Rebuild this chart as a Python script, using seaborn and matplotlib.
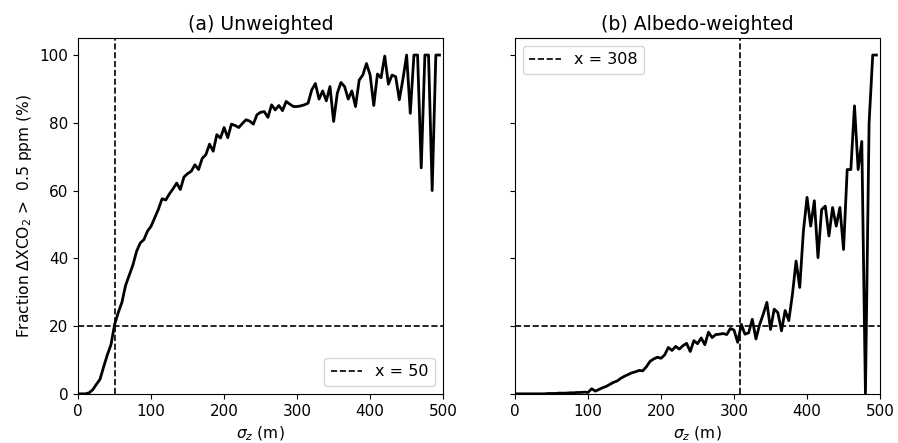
import numpy as np
import pandas as pd
import matplotlib
matplotlib.use("Agg")
import matplotlib.pyplot as plt
import seaborn as sns

# sigma_z grid (m), 5 m bins
sigma_z = np.arange(0, 500, 5)

# fraction of cases with dXCO2 > 0.5 ppm (%), unweighted
frac_unweighted = [
    0, 0, 0, 0.3, 1.2, 2.8, 4.3, 8, 11.5, 14.5,
    20.5, 24, 27, 32, 35, 38, 42, 44.5, 45.5, 48,
    49.5, 52, 54.5, 57.6, 57.2, 59, 60.5, 62.2, 60.3, 64,
    65, 65.7, 67.6, 66.2, 69.5, 70.6, 73.7, 71.6, 76.5, 75.5,
    78.6, 75.6, 79.6, 79.2, 78.6, 79.8, 80.9, 80.5, 79.6, 82.4,
    83.1, 83.3, 81.6, 85.3, 83.8, 85.1, 83.6, 86.3, 85.5, 84.8,
    84.8, 85, 85.3, 85.8, 89.7, 91.6, 87, 89.4, 86.5, 90.7,
    80.4, 88.7, 91.9, 90.7, 87, 89.4, 84.8, 92.6, 94.1, 97.5,
    94.1, 85.1, 94.4, 93.3, 99.7, 91.4, 94.1, 93.6, 86.8, 93,
    100, 82.8, 100, 100, 66.7, 100, 100, 60, 100, 100,
]

# albedo-weighted
frac_albedo = [
    0, 0, 0, 0, 0, 0, 0, 0, 0, 0.1,
    0.1, 0.1, 0.2, 0.2, 0.2, 0.3, 0.3, 0.4, 0.4, 0.5,
    0.4, 1.5, 0.8, 1.3, 1.8, 2.2, 2.8, 3.4, 3.8, 4.6,
    5.2, 5.7, 6.2, 6.5, 6.9, 6.8, 8.0, 9.6, 10.3, 10.8,
    10.5, 11.5, 13.7, 12.8, 14, 13.2, 14.2, 14.9, 12.5, 15.7,
    14.8, 16.5, 14.5, 18.2, 16.6, 17.5, 17.6, 17.8, 17.5, 19.3,
    18.8, 15.2, 20.5, 17.6, 18, 22, 16.2, 20.4, 23.5, 27,
    19, 25, 24, 18.6, 24.6, 21.6, 29.4, 39.2, 31.4, 48,
    58, 49.5, 57, 40.2, 54.4, 55.4, 46.6, 55, 49.5, 55,
    42.6, 66.2, 66.2, 85, 66.2, 74.5, 0, 80, 100, 100,
]

thresholds = [50, 308]
titles = ["(a) Unweighted", "(b) Albedo-weighted"]
legend_locs = ["lower right", "upper left"]

df = pd.DataFrame({
    "sigma_z": np.concatenate([sigma_z, sigma_z]),
    "frac": frac_unweighted + frac_albedo,
    "panel": [titles[0]] * len(sigma_z) + [titles[1]] * len(sigma_z),
})

fig, axes = plt.subplots(1, 2, figsize=(8.98, 4.43), dpi=100, sharey=True)
plt.subplots_adjust(left=0.087, right=0.98, top=0.914, bottom=0.111, wspace=0.197)

for ax, title, xthr, loc in zip(axes, titles, thresholds, legend_locs):
    sub = df[df["panel"] == title]
    sns.lineplot(data=sub, x="sigma_z", y="frac", ax=ax, color="black", lw=2)
    ax.axvline(xthr, color="black", ls="--", lw=1.2, label=f"x = {xthr}")
    ax.axhline(20, color="black", ls="--", lw=1.2)
    ax.set_xlim(0, 500)
    ax.set_ylim(0, 105)
    ax.set_title(title, fontsize=13.6)
    ax.set_xlabel(r"$\sigma_z$ (m)", fontsize=11.2)
    ax.set_ylabel("")
    ax.tick_params(labelsize=11)
    ax.legend(loc=loc, fontsize=11.5)

axes[0].set_ylabel(r"Fraction $\Delta$XCO$_2$ >  0.5 ppm (%)", fontsize=11.2)

plt.savefig("out.png", dpi=100)
